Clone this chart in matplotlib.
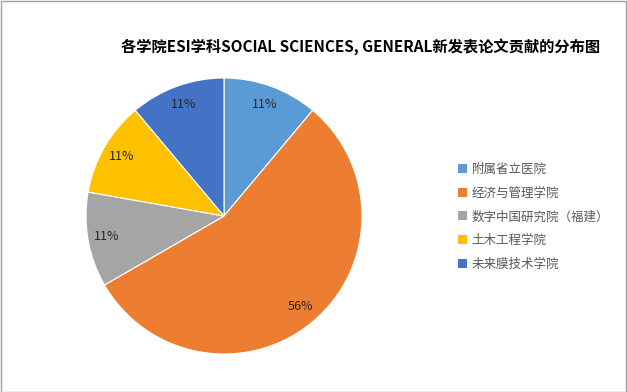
import matplotlib
matplotlib.use('Agg')
import matplotlib.pyplot as plt
from matplotlib.patches import Rectangle, Patch

plt.rcParams['font.family'] = ['Noto Sans CJK SC', 'DejaVu Sans']

# data
labels = ['附属省立医院', '经济与管理学院', '数字中国研究院（福建）', '土木工程学院', '未来膜技术学院']
counts = [1, 5, 1, 1, 1]
colors = ['#5B9BD5', '#ED7D31', '#A5A5A5', '#FFC000', '#4472C4']
title = '各学院ESI学科SOCIAL SCIENCES, GENERAL新发表论文贡献的分布图'

W, H = 627, 392
fig = plt.figure(figsize=(W / 100, H / 100), dpi=100)

# pie: center ~(224,216) px, radius ~138 px
ax = fig.add_axes([86 / W, (H - 354) / H, 276 / W, 276 / H])
wedges, texts, autotexts = ax.pie(
    counts, colors=colors, startangle=90, counterclock=False,
    autopct='%1.0f%%', pctdistance=0.86,
    wedgeprops=dict(edgecolor='white', linewidth=0.8),
    textprops=dict(fontsize=9, color='#262626'))
ax.set_xlim(-1, 1)
ax.set_ylim(-1, 1)
ax.set_aspect('equal')

fig.text(361 / W, 1 - 48 / H, title, ha='center', va='center',
         fontsize=11, fontweight='bold', color='black')

handles = [Patch(facecolor=c, edgecolor='none') for c in colors]
leg = fig.legend(handles, labels, loc='upper left',
                 bbox_to_anchor=(453 / W, 1 - 158 / H), frameon=False,
                 fontsize=9, handlelength=0.75, handleheight=0.75,
                 handletextpad=0.35, labelspacing=0.85, borderaxespad=0)
for t in leg.get_texts():
    t.set_color('#595959')

fig.add_artist(Rectangle((0.5 / W, 0.5 / H), 1 - 1.5 / W, 1 - 1.5 / H,
                         transform=fig.transFigure, fill=False,
                         edgecolor='#A0A0A0', linewidth=1))

fig.savefig('out.png', dpi=100)
